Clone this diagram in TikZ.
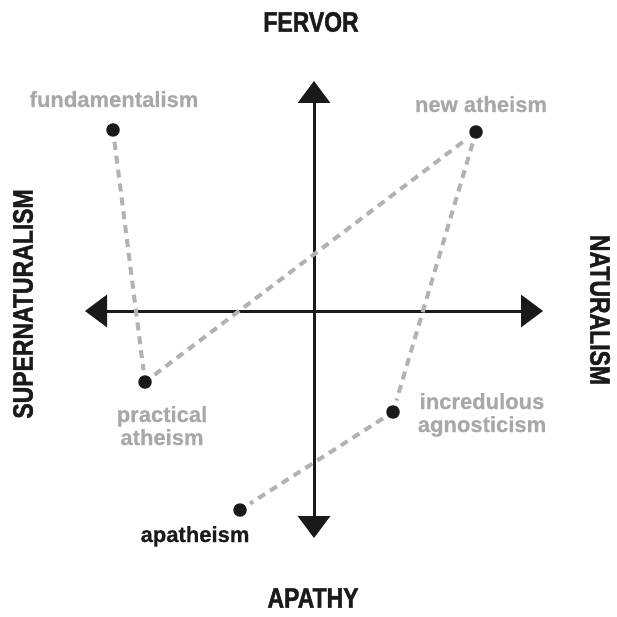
\documentclass[tikz,border=0pt]{standalone}
\usepackage{fontspec}
\setmainfont{Liberation Sans}
\newfontfamily\headfont[FakeStretch=0.82,FakeBold=1.5]{Liberation Sans Bold}
\newfontfamily\lblfont[FakeBold=0.6]{Liberation Sans Bold}
\usetikzlibrary{arrows.meta}
\definecolor{lblgray}{RGB}{168,168,168}
\definecolor{dashgray}{RGB}{178,178,178}
\definecolor{ink}{RGB}{26,26,26}
\tikzset{
  axis/.style={draw=ink, line width=3pt, {Triangle[length=22pt,width=32pt]}-{Triangle[length=22pt,width=32pt]}},
  dot/.style={circle, fill=ink, inner sep=0pt, minimum size=13.5pt},
  link/.style={draw=dashgray, line width=4pt, dash pattern=on 8pt off 6pt, shorten <=5pt, shorten >=5pt},
  lbl/.style={font=\lblfont\fontsize{22}{23}\selectfont, text=lblgray, align=center, inner sep=0pt, anchor=base},
  head/.style={font=\headfont\fontsize{28}{30}\selectfont, text=ink, inner sep=0pt}
}
\begin{document}
\begin{tikzpicture}[x=1pt,y=-1pt]
\useasboundingbox (0,0) rectangle (617,617);
% axes
\coordinate (T) at (314,81);
\coordinate (B) at (314,538);
\coordinate (L) at (85,311);
\coordinate (R) at (543,311);
\draw[axis] (B) -- (T);
\draw[axis] (L) -- (R);
% headings
\node[head] (fervor) at (311,22) {FERVOR};
\node[head] (apathy) at (313,598) {APATHY};
\node[head, rotate=90] (super) at (23,304) {SUPERNATURALISM};
\node[head, rotate=-90] (nat) at (600,310) {NATURALISM};
% dots
\node[dot] (fund) at (113,130) {};
\node[dot] (newa) at (476,132) {};
\node[dot] (prac) at (145,382) {};
\node[dot] (incr) at (393,412) {};
\node[dot] (apat) at (240,510) {};
% links
\draw[link] (fund) -- (prac);
\draw[link] (prac) -- (newa);
\draw[link] (newa) -- (incr);
\draw[link] (incr) -- (apat);
% labels
\node[lbl] (lfund) at (114,107) {fundamentalism};
\node[lbl] (lnewa) at (481,112) {new atheism};
\node[lbl] (lprac) at (162,445) {practical\\atheism};
\node[lbl] (lincr) at (482,432) {incredulous\\agnosticism};
\node[lbl, text=ink] (lapat) at (195,542) {apatheism};
\end{tikzpicture}
\end{document}
